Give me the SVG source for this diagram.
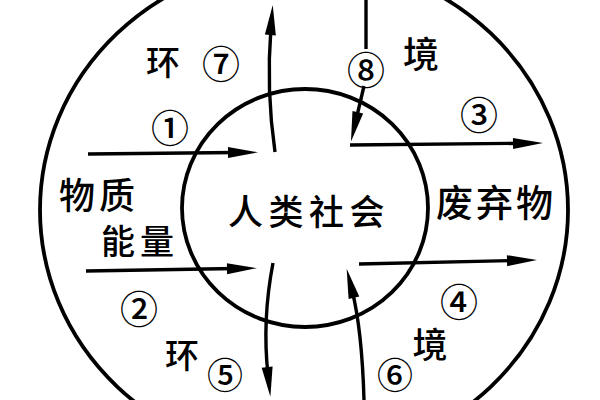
<svg xmlns="http://www.w3.org/2000/svg" width="600" height="400" viewBox="0 0 600 400">
<style>
.ring{fill:none;stroke:#000;stroke-width:3.8}
.flow{fill:none;stroke:#000;stroke-width:3.4;marker-end:url(#ah)}
.plain{fill:none;stroke:#000;stroke-width:3.4}
.t{font-family:"Noto Sans CJK SC","Noto Sans",sans-serif;font-weight:500;fill:#000;text-anchor:middle;dominant-baseline:central}
.n{font-size:38px}
.nb{font-size:36px}
</style>
<defs>
<marker id="ah" markerUnits="userSpaceOnUse" markerWidth="32" markerHeight="12" refX="8" refY="5.5" orient="auto" overflow="visible">
<path d="M0,0 L30,5.5 L0,11 Z" fill="#000"/>
</marker>
</defs>
<rect width="600" height="400" fill="#fff"/>
<g id="environment">
<ellipse class="ring" cx="304" cy="210" rx="264" ry="250"/>
</g>
<g id="society">
<ellipse class="ring" cx="305" cy="208" rx="123" ry="119"/>
<text class="t" x="309" y="209" font-size="35" letter-spacing="5.5">人类社会</text>
</g>
<g id="input">
<text class="t" x="99" y="193" font-size="36" letter-spacing="4">物质</text>
<text class="t" x="140" y="239" font-size="34" letter-spacing="5">能量</text>
</g>
<g id="waste">
<text class="t" x="496" y="201" font-size="37" letter-spacing="3">废弃物</text>
</g>
<g id="labels">
<text class="t" x="163" y="60" font-size="34">环</text>
<text class="t" x="421" y="52" font-size="36">境</text>
<text class="t" x="182" y="353" font-size="34">环</text>
<text class="t" x="430" y="342" font-size="35">境</text>
<text class="t n" x="170" y="125">①</text>
<text class="t n" x="139" y="306">②</text>
<text class="t n" x="479" y="112">③</text>
<text class="t n" x="459" y="299">④</text>
<text class="t nb" x="225" y="373">⑤</text>
<text class="t nb" x="395" y="373">⑥</text>
<text class="t n" x="221" y="61">⑦</text>
<text class="t n" x="366" y="67">⑧</text>
</g>
<g id="connectors">
<path class="flow" d="M88,154 L236,152.5"/>
<path class="flow" d="M86,271 L235,268.5"/>
<path class="flow" d="M350,145 L521,143.3"/>
<path class="flow" d="M359,264 L515,260.5"/>
<path class="flow" d="M275,152 Q266,90 271,27"/>
<path class="flow" d="M273,263 Q262,320 268,375"/>
<path class="flow" d="M364,400 Q362,330 352,290"/>
<path class="plain" d="M366,0 L366,49"/>
<path class="flow" d="M364,86 L356,120"/>
</g>
</svg>
